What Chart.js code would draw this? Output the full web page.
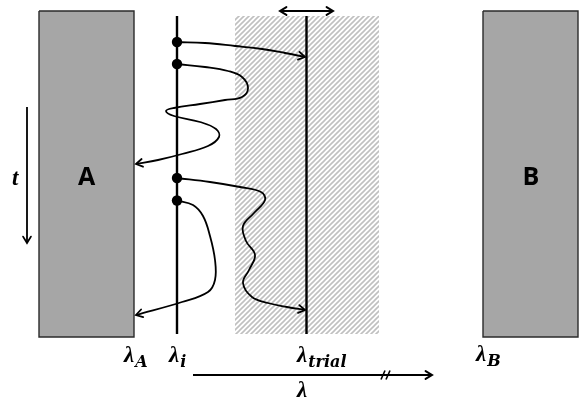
<!DOCTYPE html>
<html>
<head>
<meta charset="utf-8">
<script src="https://cdn.jsdelivr.net/npm/chart.js@4/dist/chart.umd.min.js"></script>
<style>
  html, body { margin: 0; padding: 0; background: #ffffff; }
  canvas { display: block; }
</style>
</head>
<body>
<canvas id="diagram" width="579" height="403"></canvas>
<script>
// Diagram units: x grows to the right, y grows downward (the y scale is reversed).

// End states A and B (walls)
const wallAX = [39, 134];
const wallBX = [483, 578];
const wallY = [11, 337];

// Sampled window around the trial value
const windowX = [235, 379];
const windowY = [16, 334];

// Vertical lines: current state λ_i and trial state λ_trial
const lambdaIX = 177;
const lambdaTrialX = 306.5;
const verticalY = [16, 334];

// Starting points of the trajectories on λ_i
const startY = [42, 64, 178, 200.5];

// Trajectories (x, y pairs)
const path1 = [[177, 42], [205, 43], [235, 46], [262, 49], [285, 53], [305, 57]];
const path2 = [[177, 64], [205, 67], [228, 71], [242, 77], [248, 88], [242, 97], [225, 100],
               [200, 104], [174, 108], [166, 111], [174, 116], [200, 122], [216, 129],
               [219, 137], [208, 146], [182, 154], [158, 160], [136, 164]];
const path3 = [[177, 178], [210, 182], [240, 187], [261, 192], [265, 200], [254, 213],
               [243, 226], [246, 241], [255, 255], [249, 270], [243, 283], [252, 297],
               [268, 303], [287, 307], [305, 310]];
const path4 = [[177, 200.5], [193, 205], [203, 216], [210, 236], [215, 260], [215, 280],
               [208, 292], [182, 302], [136, 315]];

// Arrows: time arrow, trial-move arrow, λ axis
const timeArrowX = 27;
const timeArrowY = [107, 243];
const moveArrowX = [280, 333];
const moveArrowY = 11;
const lambdaAxisX = [193, 432];
const lambdaAxisY = 375;
const axisBreakX = [383, 388];

// Text labels
const labelMain = ['λ', 'λ', 'λ', 'λ', 'λ', 't'];
const labelSub = ['A', 'i', 'trial', '', 'B', ''];
const labelX = [124, 169, 297, 297, 476, 12];
const labelY = [362, 362, 362, 397, 361, 185];
const boxLetters = ['A', 'B'];
const boxLetterX = [86.5, 531];
const boxLetterY = [185, 185];

// ---- helpers building datasets from the arrays above ----
const pts = arr => arr.map(([x, y]) => ({x, y}));

function hatchPattern() {
  const s = 5;
  const c = document.createElement('canvas');
  c.width = s; c.height = s;
  const g = c.getContext('2d');
  g.fillStyle = '#ffffff';
  g.fillRect(0, 0, s, s);
  g.strokeStyle = '#c0c0c0';
  g.lineWidth = 1.6;
  g.beginPath();
  g.moveTo(-1, s + 1); g.lineTo(s + 1, -1);
  g.moveTo(-1, 1); g.lineTo(1, -1);
  g.moveTo(s - 1, s + 1); g.lineTo(s + 1, s - 1);
  g.stroke();
  return g.createPattern(c, 'repeat');
}

const base = {showLine: true, pointRadius: 0, pointHoverRadius: 0, tension: 0,
              borderColor: '#000000', borderWidth: 1.5, fill: false};

const datasets = [];

// filled regions (drawn first)
datasets.push({...base, order: 20, data: [{x: windowX[0], y: windowY[0]}, {x: windowX[1], y: windowY[0]}],
  fill: {value: windowY[1]}, backgroundColor: hatchPattern(), borderColor: 'transparent'});
[wallAX, wallBX].forEach(wx => {
  datasets.push({...base, order: 20, data: [{x: wx[0], y: wallY[0]}, {x: wx[1], y: wallY[0]}],
    fill: {value: wallY[1]}, backgroundColor: '#a6a6a6', borderColor: 'transparent'});
  datasets.push({...base, order: 19, borderColor: '#2b2b2b', borderWidth: 1.4,
    data: [{x: wx[0], y: wallY[0]}, {x: wx[1], y: wallY[0]}, {x: wx[1], y: wallY[1]},
           {x: wx[0], y: wallY[1]}, {x: wx[0], y: wallY[0]}]});
});

// vertical state lines
[lambdaIX, lambdaTrialX].forEach(x => {
  datasets.push({...base, order: 6, borderWidth: 2.4,
    data: [{x, y: verticalY[0]}, {x, y: verticalY[1]}]});
});

// trajectories
[path1, path2, path3, path4].forEach(p => {
  datasets.push({...base, order: 5, tension: 0.4, borderWidth: 1.8, data: pts(p), arrow: 'end'});
});

// time arrow
datasets.push({...base, order: 5, borderWidth: 1.8,
  data: [{x: timeArrowX, y: timeArrowY[0]}, {x: timeArrowX, y: timeArrowY[1]}], arrow: 'end'});
// trial move arrow
datasets.push({...base, order: 5, borderWidth: 2,
  data: [{x: moveArrowX[0], y: moveArrowY}, {x: moveArrowX[1], y: moveArrowY}], arrow: 'both'});
// λ axis
datasets.push({...base, order: 5, borderWidth: 2,
  data: [{x: lambdaAxisX[0], y: lambdaAxisY}, {x: lambdaAxisX[1], y: lambdaAxisY}], arrow: 'end'});
axisBreakX.forEach(bx => {
  datasets.push({...base, order: 5, borderWidth: 1.6,
    data: [{x: bx - 2, y: lambdaAxisY + 4.5}, {x: bx + 2, y: lambdaAxisY - 4.5}]});
});

// starting points
datasets.push({order: 1, showLine: false, data: startY.map(y => ({x: lambdaIX, y})),
  pointRadius: 5.2, pointHoverRadius: 5.2, backgroundColor: '#000000', borderColor: '#000000', borderWidth: 0});

// ---- plugins: arrow heads and text ----
function drawHead(ctx, tipX, tipY, fromX, fromY, len, width) {
  const a = Math.atan2(tipY - fromY, tipX - fromX);
  const spread = 0.55;
  ctx.save();
  ctx.lineWidth = width;
  ctx.strokeStyle = '#000000';
  ctx.lineCap = 'round';
  ctx.lineJoin = 'miter';
  ctx.beginPath();
  ctx.moveTo(tipX - len * Math.cos(a - spread), tipY - len * Math.sin(a - spread));
  ctx.lineTo(tipX, tipY);
  ctx.lineTo(tipX - len * Math.cos(a + spread), tipY - len * Math.sin(a + spread));
  ctx.stroke();
  ctx.restore();
}

const arrowHeads = {
  id: 'arrowHeads',
  afterDatasetsDraw(chart) {
    const ctx = chart.ctx;
    chart.data.datasets.forEach((ds, i) => {
      if (!ds.arrow) return;
      const els = chart.getDatasetMeta(i).data;
      const n = els.length;
      const last = els[n - 1];
      const prev = els[n - 2];
      let fx = prev.x, fy = prev.y;
      if (last.cp1x !== undefined && (Math.abs(last.cp1x - last.x) + Math.abs(last.cp1y - last.y)) > 0.5) {
        fx = last.cp1x; fy = last.cp1y;
      }
      const w = ds.borderWidth;
      drawHead(ctx, last.x, last.y, fx, fy, 7.5, w);
      if (ds.arrow === 'both') {
        const first = els[0], second = els[1];
        drawHead(ctx, first.x, first.y, second.x, second.y, 7.5, w);
      }
    });
  }
};

const textLabels = {
  id: 'textLabels',
  afterDraw(chart) {
    const ctx = chart.ctx;
    const sx = chart.scales.x, sy = chart.scales.y;
    ctx.save();
    ctx.fillStyle = '#000000';
    ctx.textAlign = 'left';
    ctx.textBaseline = 'alphabetic';
    labelMain.forEach((t, i) => {
      const px = sx.getPixelForValue(labelX[i]);
      const py = sy.getPixelForValue(labelY[i]);
      ctx.font = 'bold italic 23px "Liberation Serif"';
      ctx.fillText(t, px, py);
      if (labelSub[i]) {
        const w = ctx.measureText(t).width;
        ctx.font = 'bold italic 16px "DejaVu Serif"';
        ctx.fillText(labelSub[i], px + w + 1, py + 5);
      }
    });
    ctx.textAlign = 'center';
    ctx.font = 'bold 25px "Open Sans"';
    boxLetters.forEach((t, i) => {
      ctx.fillText(t, sx.getPixelForValue(boxLetterX[i]), sy.getPixelForValue(boxLetterY[i]));
    });
    ctx.restore();
  }
};

new Chart(document.getElementById('diagram'), {
  type: 'scatter',
  data: {datasets},
  options: {
    responsive: false,
    animation: false,
    devicePixelRatio: 1,
    layout: {padding: 0, autoPadding: false},
    events: [],
    plugins: {legend: {display: false}, tooltip: {enabled: false}},
    scales: {
      x: {type: 'linear', min: 0, max: 579, display: false},
      y: {type: 'linear', min: 0, max: 403, reverse: true, display: false}
    }
  },
  plugins: [arrowHeads, textLabels]
});
</script>
</body>
</html>
